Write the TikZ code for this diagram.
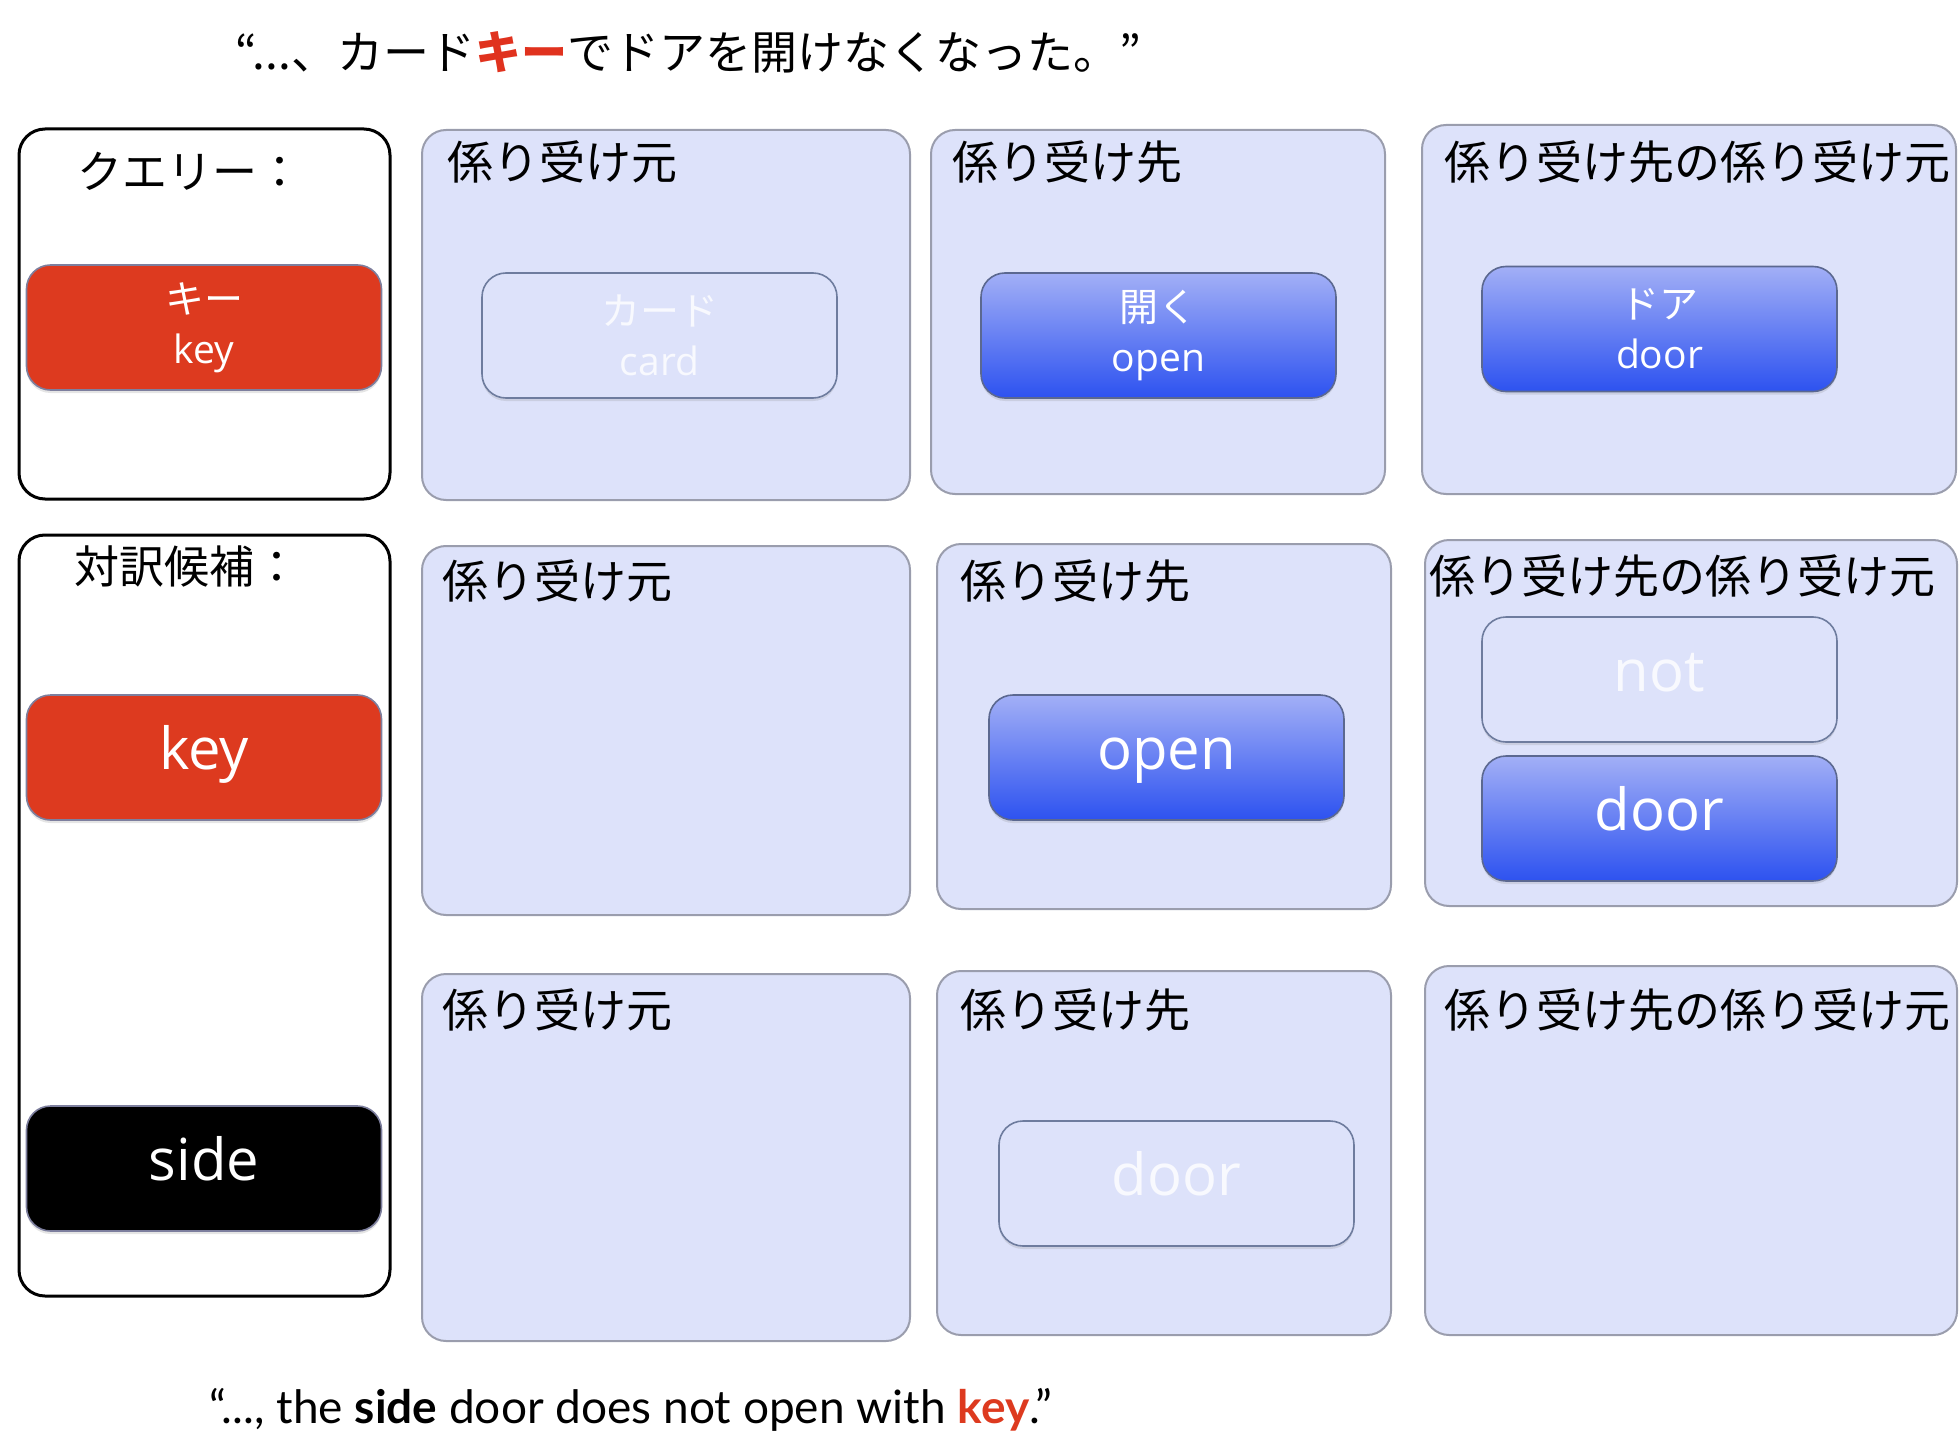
\documentclass[tikz,border=0pt]{standalone}
\usepackage{fontspec}
\setmainfont{Open Sans}
\newfontfamily\jp{Noto Sans CJK JP}
\newfontfamily\lat{Lato}
\usetikzlibrary{shadows}
\definecolor{panelfill}{HTML}{DDE2FA}
\definecolor{paneldraw}{HTML}{9A9DAD}
\definecolor{keyred}{HTML}{DD3A1F}
\definecolor{rededge}{HTML}{7D7F9E}
\definecolor{btnedge}{HTML}{5B6890}
\definecolor{btntop}{HTML}{A2AFF6}
\definecolor{btnbot}{HTML}{2D52F0}
\definecolor{ghostedge}{HTML}{6E7C9E}
\definecolor{ghosttext}{HTML}{F8F9FE}
\definecolor{titlered}{HTML}{E0321E}
\tikzset{
  qbox/.style={draw=black, line width=1.5pt, fill=white, rounded corners=13pt, inner sep=0pt},
  panel/.style={draw=paneldraw, line width=1pt, fill=panelfill, rounded corners=12pt, inner sep=0pt},
  lbl/.style={anchor=west, inner sep=0pt, font=\jp\fontsize{23pt}{27pt}\selectfont},
  btn/.style={rounded corners=12pt, minimum width=177.5pt, minimum height=62.5pt, inner sep=0pt,
    line width=0.8pt, text=white, align=center,
    drop shadow={opacity=0.2, shadow xshift=0pt, shadow yshift=-1.5pt}},
  redbtn/.style={btn, fill=keyred, draw=rededge},
  bluebtn/.style={btn, draw=btnedge, top color=btntop, bottom color=btnbot},
  ghost/.style={btn, fill=panelfill, draw=ghostedge, text=ghosttext},
  blackbtn/.style={btn, fill=black, draw=rededge},
  bigtxt/.style={font=\fontsize{29pt}{34pt}\selectfont, text height=22pt, text depth=10pt},
  smalltxt/.style={font=\fontsize{19.5pt}{25pt}\selectfont},
}
\begin{document}
\begin{tikzpicture}[x=0.5pt,y=-0.5pt]
\useasboundingbox (0,0) rectangle (1960,1439);
\clip (0,0) rectangle (1960,1439);
% title
\node[inner sep=0pt, font=\jp\fontsize{23pt}{27pt}\selectfont] (title) at (688,52)
  {“...、カード{\color{titlered}\bfseries キー}でドアを開けなくなった。”};
% query and candidate boxes
\node[qbox, minimum width=185.5pt, minimum height=185pt] (query) at (204.5,314) {};
\node[qbox, minimum width=185.5pt, minimum height=380.5pt] (cand) at (204.5,915.5) {};
\node[lbl, font=\jp\fontsize{22.5pt}{26pt}\selectfont] (qlbl) at (77,171) {クエリー：};
\node[lbl, font=\jp\fontsize{22.5pt}{26pt}\selectfont] (clbl) at (74,566) {対訳候補：};
\node[redbtn, smalltxt] (qkey) at (204,327.5) {{\jp キー}\\key};
\node[redbtn, bigtxt] (ckey) at (204,757.5) {key};
\node[blackbtn, bigtxt] (cside) at (204,1168.5) {side};
% panels
\node[panel, minimum width=244pt, minimum height=185pt] (p11) at (666,315) {};
\node[panel, minimum width=227pt, minimum height=182pt] (p12) at (1158,312) {};
\node[panel, minimum width=267pt, minimum height=184.5pt] (p13) at (1689,309.5) {};
\node[panel, minimum width=244pt, minimum height=184.5pt] (p21) at (666,730.5) {};
\node[panel, minimum width=227pt, minimum height=182.5pt] (p22) at (1164,726.5) {};
\node[panel, minimum width=266pt, minimum height=183pt] (p23) at (1691,723) {};
\node[panel, minimum width=244pt, minimum height=183.5pt] (p31) at (666,1157.5) {};
\node[panel, minimum width=227pt, minimum height=182pt] (p32) at (1164,1153) {};
\node[panel, minimum width=266pt, minimum height=184.5pt] (p33) at (1691,1150.5) {};
% panel labels
\node[lbl] (l11) at (447,162) {係り受け元};
\node[lbl] (l12) at (952,162) {係り受け先};
\node[lbl] (l13) at (1444,162) {係り受け先の係り受け元};
\node[lbl] (l21) at (442,581) {係り受け元};
\node[lbl] (l22) at (960,581) {係り受け先};
\node[lbl] (l23) at (1429,576) {係り受け先の係り受け元};
\node[lbl] (l31) at (442,1010) {係り受け元};
\node[lbl] (l32) at (960,1010) {係り受け先};
\node[lbl] (l33) at (1444,1010) {係り受け先の係り受け元};
% buttons
\node[ghost, smalltxt] (card) at (659.5,335.5) {{\jp カード}\\card};
\node[bluebtn, smalltxt] (open1) at (1158.5,335.5) {{\jp 開く}\\open};
\node[bluebtn, smalltxt] (door1) at (1659.5,329) {{\jp ドア}\\door};
\node[bluebtn, bigtxt] (open2) at (1166.5,757.5) {open};
\node[ghost, bigtxt] (not2) at (1659.5,679.5) {not};
\node[bluebtn, bigtxt] (door2) at (1659.5,818.5) {door};
\node[ghost, bigtxt] (door3) at (1176.5,1183.5) {door};
% bottom sentence
\node[inner sep=0pt, font=\lat\fontsize{23pt}{27pt}\selectfont] (eng) at (631,1410)
  {“..., the \textbf{side} door does not open with {\color{keyred}\textbf{key}}.”};
\end{tikzpicture}
\end{document}
